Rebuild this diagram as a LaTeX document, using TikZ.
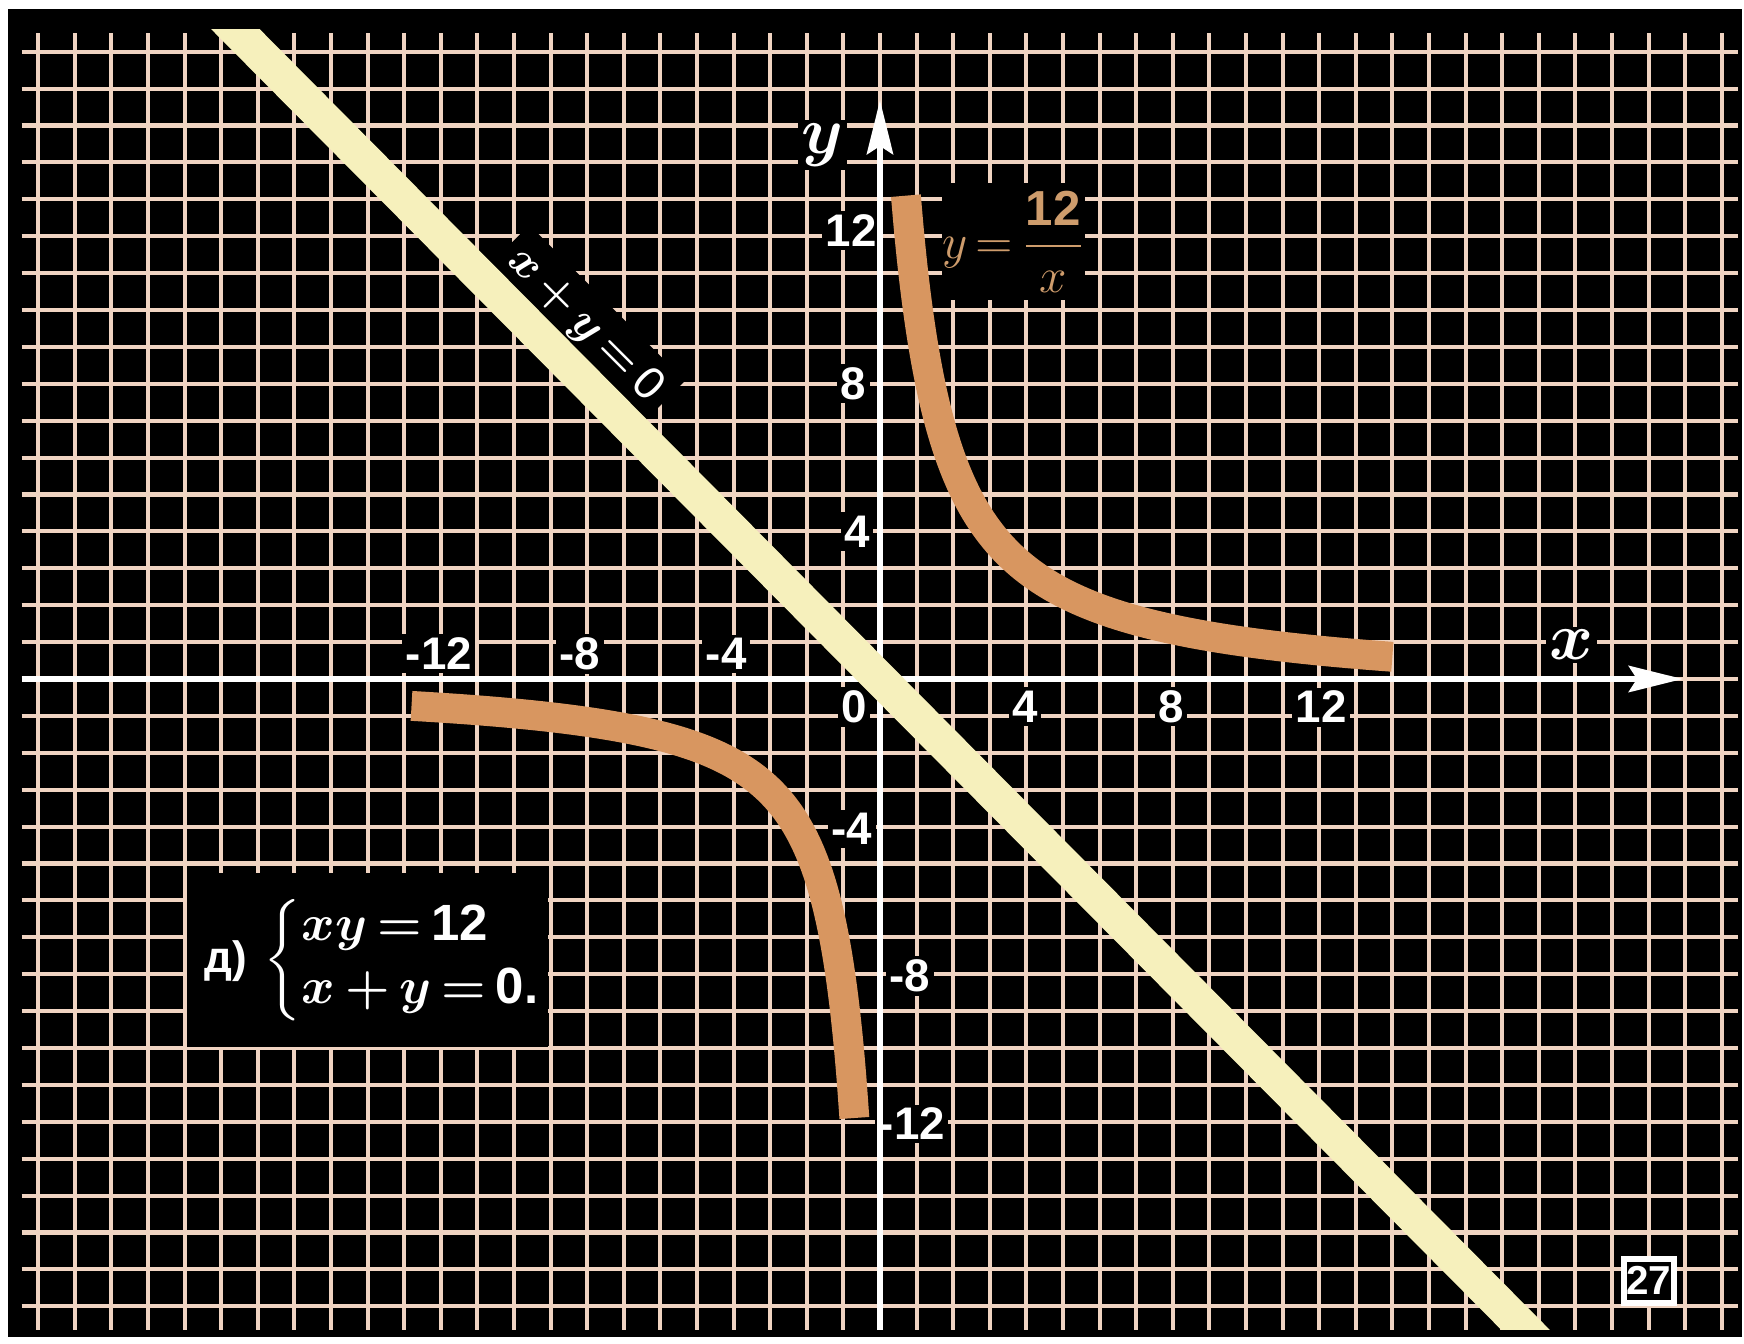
\RequirePackage{fix-cm}
\documentclass[tikz,border=0pt]{standalone}
\usepackage{amsmath}
\usepackage{fontspec}
\setsansfont{Liberation Sans}
\usetikzlibrary{arrows.meta}

\definecolor{gridpeach}{RGB}{240,212,194}
\definecolor{linecream}{RGB}{246,240,188}
\definecolor{curvetan}{RGB}{216,150,96}
\definecolor{labeltan}{RGB}{206,156,108}

\tikzset{
  gridline/.style={gridpeach, line width=1.15pt},
  axisline/.style={white, line width=1.9pt, -{Stealth[length=5.4mm,width=2.6mm,inset=0.8mm]}},
  diagline/.style={linecream, line width=9.8pt},
  curve/.style={curvetan, line width=8.5pt, line cap=butt},
  ticklabel/.style={fill=black, text=white, inner sep=1pt, font=\sffamily\bfseries\fontsize{13}{15}\selectfont},
  axislabel/.style={fill=black, text=white, inner sep=1pt, font=\fontsize{19}{22}\selectfont\boldmath},
}

\begin{document}
\begin{tikzpicture}[x=0.366cm, y=0.369cm]
  \useasboundingbox (-24.044,-17.995) rectangle (23.607,18.401);
  % black board
  \fill[black] (-23.825,-17.833) rectangle (23.55,18.157);
  % squared paper
  \foreach \i in {-23,...,23} \draw[gridline] (\i,-17.64) -- (\i,17.5);
  \foreach \j in {-17,...,17} \draw[gridline] (-23.45,\j) -- (23.45,\j);
  % text boxes cut the grid
  \node[fill=black, text=white, rotate=-45, inner sep=3pt, font=\fontsize{13}{16}\selectfont\boldmath] (dlab) at (-8.05,9.6) {$x\,{+}\,y\,{=}\,\textsf{0}$};
  \node[fill=black, text=labeltan, minimum width=1.41cm, minimum height=1.17cm, inner sep=0pt, font=\fontsize{14}{17}\selectfont] (hlab) at (3.65,11.85) {$y\,{=}\,\dfrac{\textsf{\bfseries 12}}{x}$};
  \node[fill=black, text=white, minimum width=3.61cm, minimum height=1.74cm, inner sep=0pt, font=\fontsize{14.5}{17}\selectfont\boldmath] (sys) at (-14.0,-7.62)
    {\hspace*{1.2mm}{\sffamily\bfseries\fontsize{12.5}{15}\selectfont д)}\ $\left\{\begin{array}{@{}l@{}} xy\,{=}\,\textsf{\bfseries 12}\\[1pt] x\,{+}\,y\,{=}\,\textsf{\bfseries 0.}\end{array}\right.$};
  \node[draw=white, line width=1.7pt, fill=black, text=white, minimum width=0.5cm, minimum height=0.44cm, inner sep=0pt, font=\sffamily\bfseries\fontsize{11.5}{13}\selectfont] (page) at (21.01,-16.31) {27};
  % tick labels
  \node[ticklabel] (lxm12) at (-12.05,0.68) {-12};
  \node[ticklabel] (lxm8) at (-8.2,0.68) {-8};
  \node[ticklabel] (lxm4) at (-4.2,0.68) {-4};
  \node[ticklabel] (lo) at (-0.71,-0.76) {0};
  \node[ticklabel] (lx4) at (3.96,-0.74) {4};
  \node[ticklabel] (lx8) at (7.95,-0.74) {8};
  \node[ticklabel] (lx12) at (12.05,-0.76) {12};
  \node[ticklabel] (ly12) at (-0.79,12.15) {12};
  \node[ticklabel] (ly8) at (-0.72,8.0) {8};
  \node[ticklabel] (ly4) at (-0.63,4.0) {4};
  \node[ticklabel] (lym4) at (-0.77,-4.07) {-4};
  \node[ticklabel] (lym8) at (0.82,-8.05) {-8};
  \node[ticklabel] (lym12) at (0.87,-12.06) {-12};
  \node[axislabel] (ly) at (-1.56,14.47) {$y$};
  \node[axislabel] (lx) at (18.9,0.92) {$x$};
  % axes
  \coordinate (xa) at (-23.45,0);
  \coordinate (xb) at (21.94,0);
  \coordinate (ya) at (0,-17.64);
  \coordinate (yb) at (0,15.69);
  \draw[axisline] (xa) -- (xb);
  \draw[axisline] (ya) -- (yb);
  % x + y = 0
  \begin{scope}
    \clip (-24,-17.64) rectangle (24,17.59);
    \draw[diagline] (-19,19) -- (19,-19);
  \end{scope}
  % xy = 12, painted by hand
  \draw[curve] plot[domain=0.708:14, samples=150, smooth] (\x,{15/(\x+0.4)-0.44});
  \draw[curve] plot[domain=-12.8:-0.7, samples=150, smooth] (\x,{9.4/(\x-0.09)});
\end{tikzpicture}
\end{document}
